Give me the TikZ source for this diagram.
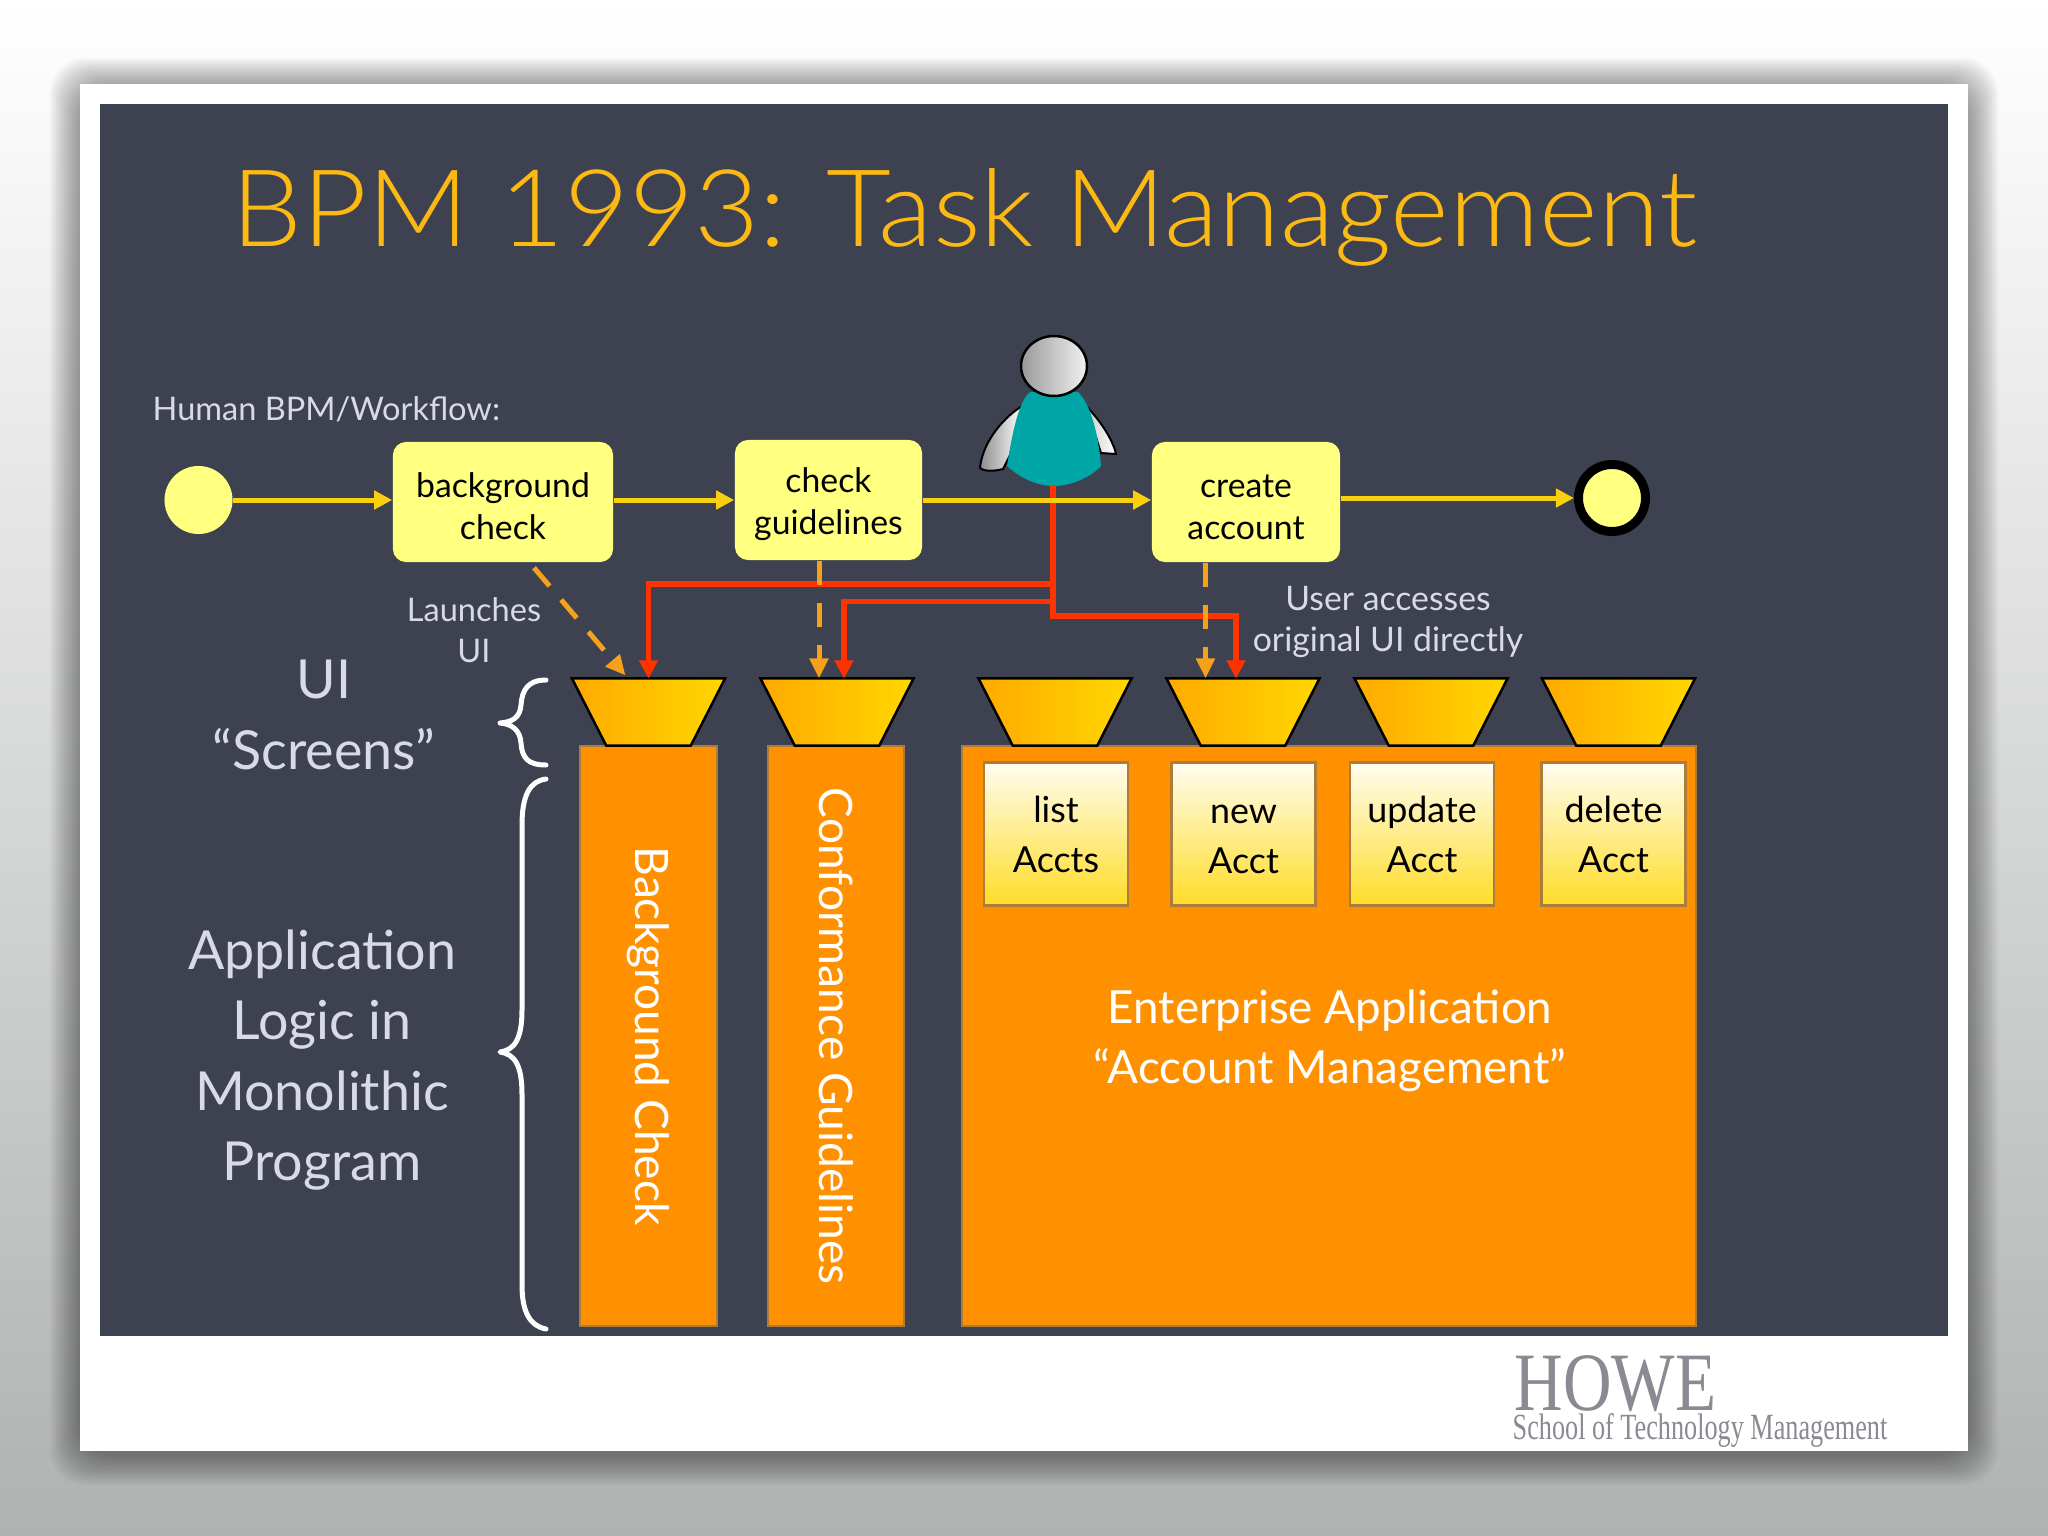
\documentclass[tikz,border=0pt]{standalone}
\usepackage{graphicx}
\usepackage{fontspec}
\setmainfont{Lato}
\newfontfamily\headfont{Lato Light}
\newfontfamily\logofont{Liberation Serif}
\usepackage{tikz}
\usetikzlibrary{arrows.meta,calc,shapes.geometric}
\definecolor{slidebg}{RGB}{61,65,80}
\definecolor{backdrop}{RGB}{176,178,178}
\definecolor{flowyellow}{RGB}{248,208,16}
\definecolor{palebox}{RGB}{255,255,128}
\definecolor{launchorange}{RGB}{245,161,28}
\definecolor{directred}{RGB}{255,51,0}
\definecolor{appcolor}{RGB}{255,145,0}
\definecolor{appedge}{RGB}{170,125,60}
\definecolor{labelgrey}{RGB}{216,218,232}
\definecolor{logogrey}{RGB}{138,138,146}
\definecolor{titlegold}{RGB}{253,185,19}
\definecolor{screenleft}{RGB}{255,170,0}
\definecolor{screenright}{RGB}{255,215,0}
\definecolor{fntop}{RGB}{255,253,240}
\definecolor{fnbottom}{RGB}{255,220,40}
\definecolor{usercolor}{RGB}{0,165,165}
\newcommand{\firstline}{\rule{0pt}{9.5pt}}

\begin{document}
\begin{tikzpicture}[x=0.01cm,y=-0.01cm,
    procbox/.style={rounded corners=0.13cm, fill=palebox, minimum height=1.2cm, align=center, font=\fontsize{9.6}{11.8}\selectfont, text=black},
    startdot/.style={circle, fill=palebox, minimum size=0.68cm, inner sep=0pt},
    enddot/.style={circle, fill=palebox, draw=black, line width=0.09cm, minimum size=0.67cm, inner sep=0pt},
    flow/.style={-{Triangle[length=0.18cm,width=0.18cm]}, line width=0.05cm, flowyellow},
    launch/.style={-{Triangle[length=0.2cm,width=0.18cm]}, line width=0.05cm, launchorange, dash pattern=on 0.24cm off 0.18cm},
    direct/.style={-{Triangle[length=0.18cm,width=0.18cm]}, line width=0.055cm, directred},
    screen/.style={trapezium, shape border rotate=180, trapezium left angle=68, trapezium right angle=68, trapezium stretches=true,
        minimum width=1.53cm, minimum height=0.67cm, inner sep=2pt, outer sep=0pt, left color=screenleft, right color=screenright, draw=black, line width=0.025cm},
    appblock/.style={fill=appcolor, draw=appedge, line width=0.025cm, text=white, font=\fontsize{13.1}{16}\selectfont, inner sep=0pt},
    fnbox/.style={top color=fntop, bottom color=fnbottom, draw=appedge, line width=0.025cm, minimum width=1.44cm, minimum height=1.43cm, align=center, font=\fontsize{10.2}{14.2}\selectfont, text=black},
    biglabel/.style={labelgrey, align=center, font=\fontsize{15.3}{20}\selectfont},
    smalllabel/.style={labelgrey, align=center, font=\fontsize{9.25}{11.6}\selectfont},
    curly/.style={white, line width=0.05cm, line cap=round, line join=round}
]
% backdrop and card
\shade[top color=white, bottom color=backdrop] (0,0) rectangle (2048,1536);
\useasboundingbox (0,0) rectangle (2048,1536);
\foreach \d in {2,4,...,30}
  \fill[black, opacity=0.026, rounded corners=0.35cm] (80-\d,84-\d+4) rectangle (1968+\d,1451+\d+4);
\fill[white] (80,84) rectangle (1968,1451);
\fill[slidebg] (100,104) rectangle (1948,1336);
\node[anchor=base west, inner sep=0pt, titlegold, font=\headfont\fontsize{30.5}{36}\selectfont] (title) at (231,246) {\scalebox{1.045}[1]{BPM 1993: Task Management}};

% application blocks
\node[appblock, rotate=-90, minimum width=5.8cm, minimum height=1.37cm] (bgapp) at (648.5,1036) {Background Check};
\node[appblock, rotate=-90, minimum width=5.8cm, minimum height=1.36cm] (cgapp) at (836,1036) {Conformance Guidelines};
\node[appblock, minimum width=7.34cm, minimum height=5.8cm] (entapp) at (1329,1036) {};
\node[appblock, align=center, font=\fontsize{13}{17}\selectfont, fill=none, draw=none] (enttext) at (1330,1041) {Enterprise Application\\``Account Management''};

% screens on top of the blocks
\foreach \name/\x in {scra/648.5,scrb/837,scrc/1055,scrd/1243,scre/1431,scrf/1618.5}
  \node[screen] (\name) at (\x,712) {};

\node[fnbox] (list) at (1056,834) {list\\Accts};
\node[fnbox] (new) at (1243.5,834) {\rule{0pt}{8.4pt}new\\Acct};
\node[fnbox] (update) at (1422,834) {update\\Acct};
\node[fnbox] (delete) at (1613.5,834) {delete\\Acct};

% process row
\node[startdot] (start) at (198.5,500) {};
\node[procbox, minimum width=2.2cm] (bgcheck) at (503,502) {\firstline background\\check};
\node[procbox, minimum width=1.87cm] (guide) at (828.5,500) {\firstline check\\guidelines};
\node[procbox, minimum width=1.88cm] (create) at (1246,502) {\firstline create\\account};
\node[enddot] (finish) at (1612,498) {};

% user
\coordinate (user) at (1053,485);
\shade[left color=black!45, right color=white, draw=black, line width=0.02cm] (1022,406) .. controls (1000,420) and (982,445) .. (980,468) .. controls (985,472) and (995,471) .. (1003,469) -- (1010,455) -- cycle;
\shade[left color=black!20, right color=white, draw=black, line width=0.02cm] (1086,406) .. controls (1100,420) and (1113,440) .. (1116,454) -- (1101,453) -- cycle;
\fill[usercolor] (1030,392) .. controls (1018,402) and (1012,435) .. (1007,466) .. controls (1022,480) and (1040,486) .. (1054,486) .. controls (1070,486) and (1090,478) .. (1101,466) .. controls (1099,440) and (1092,405) .. (1078,392) -- cycle;
\shade[left color=black!40, right color=black!5, draw=black, line width=0.025cm] (1054,366) ellipse (33 and 30);

% red lines go under the others
\draw[direct] (user) -- (1053,584) -| (scra.north);
\draw[direct] (user) -- (1053,601.5) -| ($(scrb.north)+(7,0)$);
\draw[direct] (user) -- (1053,616) -| ($(scrd.north)+(-7,0)$);

\draw[flow] (start) -- (start -| bgcheck.west);
\draw[flow] (start -| bgcheck.east) -- (start -| guide.west);
\draw[flow] (start -| guide.east) -- (start -| create.west);
\draw[flow] (finish -| create.east) -- (finish.west);

\draw[launch] ($(bgcheck.south)+(31,5)$) -- ($(scra.north)+(-23,-3)$);
\draw[launch] (guide.south -| 819,0) -- (scrb.north -| 819,0);
\draw[launch] (create.south -| 1205.5,0) -- (scrd.north -| 1205.5,0);

% labels
\node[smalllabel, anchor=base west, inner sep=0pt] (flowlabel) at (152,420) {Human BPM/Workflow:};
\node[smalllabel] (launches) at (474,630) {Launches\\UI};
\node[smalllabel, font=\fontsize{9.6}{11.6}\selectfont] (access) at (1388,622) {User accesses\\original UI directly};
\node[biglabel] (uilabel) at (324,715) {UI\\``Screens''};
\node[biglabel] (logiclabel) at (322,1060) {Application\\Logic in\\Monolithic\\Program};

% braces
\draw[curly] (546,680) .. controls (528,680) and (522,690) .. (521,705) .. controls (520,718) and (512,722) .. (500,723) .. controls (512,724) and (520,730) .. (521,743) .. controls (522,758) and (528,765) .. (546,765);
\draw[curly] (546,779) .. controls (530,781) and (522,795) .. (522,825) -- (522,1010) .. controls (522,1040) and (514,1050) .. (500,1052) .. controls (514,1054) and (522,1064) .. (522,1094) -- (522,1285) .. controls (522,1312) and (530,1326) .. (546,1329);

% logo
\node[anchor=base west, inner sep=0pt, logogrey, font=\logofont\fontsize{23.6}{24}\selectfont] (howe) at (1514,1410) {\scalebox{.81}[1]{HOWE}};
\node[anchor=base west, inner sep=0pt, logogrey, font=\logofont\fontsize{10.5}{12}\selectfont] (school) at (1512,1439) {\scalebox{.71}[1]{School of Technology Management}};
\end{tikzpicture}
\end{document}
